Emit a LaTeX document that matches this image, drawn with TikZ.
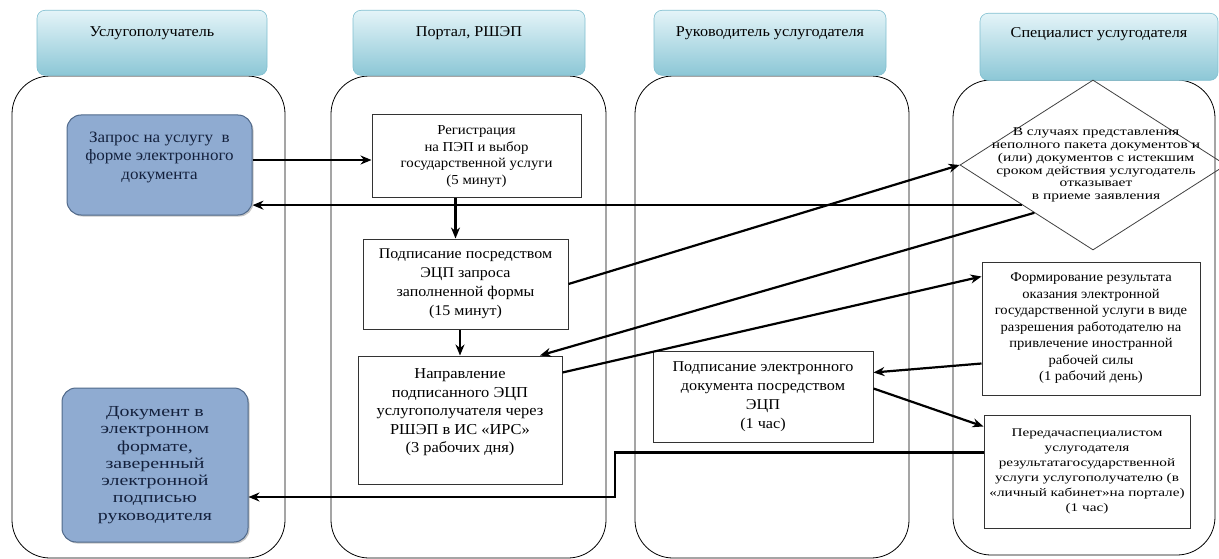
\documentclass[tikz,border=0pt]{standalone}
\usepackage{fontspec}
\setmainfont{Liberation Serif}[FakeStretch=1.08]
\newfontfamily\widefont{Liberation Serif}[FakeStretch=1.3]
\usetikzlibrary{arrows.meta,shapes.geometric,calc,shadows}

\definecolor{hdrlight}{HTML}{E4F4F8}
\definecolor{hdrdark}{HTML}{8CC7D6}
\definecolor{hdrline}{HTML}{80BFD0}
\definecolor{docfill}{HTML}{8FABD1}
\definecolor{docline}{HTML}{50698A}
\definecolor{doctext}{HTML}{14213D}

\tikzset{
  lane/.style={draw, line width=0.8pt, rounded corners=38pt, inner sep=0pt},
  lanehead/.style={anchor=north, rounded corners=8pt, draw=hdrline, line width=0.6pt,
    top color=hdrlight, bottom color=hdrdark, inner ysep=6pt,
    font=\fontsize{15}{17}\selectfont},
  stepbox/.style={draw=black!80, line width=1pt, fill=white, align=center, inner sep=2pt},
  docbox/.style={draw=docline, line width=1pt, fill=docfill, rounded corners=14pt,
    align=center, text=doctext, inner sep=2pt,
    drop shadow={shadow xshift=1.5pt, shadow yshift=-1.5pt, fill=black!45}},
  decision/.style={diamond, draw=black!75, line width=0.8pt, inner sep=0pt},
  flow/.style={line width=2.2pt, -{Stealth[length=11pt,width=9pt]}}
}

\begin{document}
\begin{tikzpicture}[x=1pt,y=-1pt]
\useasboundingbox (0,0) rectangle (1219,559);

\node[lane, minimum width=273pt, minimum height=482pt] (laneA) at (148.5,317) {};
\node[lane, minimum width=275pt, minimum height=482pt] (laneB) at (468.5,317) {};
\node[lane, minimum width=274pt, minimum height=482pt] (laneC) at (772,317) {};
\node[lane, minimum width=262pt, minimum height=475pt] (laneD) at (1084,317.5) {};

\node[lanehead, minimum width=230pt, text height=20pt, text depth=33pt] (headA) at (152,10) {Услугополучатель};
\node[lanehead, minimum width=232pt, text height=20pt, text depth=33pt] (headB) at (469,10) {Портал, РШЭП};
\node[lanehead, minimum width=232pt, text height=20pt, text depth=33pt] (headC) at (770,10) {Руководитель услугодателя};
\node[lanehead, minimum width=238pt, text height=18pt, text depth=37pt] (headD) at (1099,13) {Специалист услугодателя};

\node[docbox, minimum width=185pt, minimum height=100pt, font=\fontsize{15.8}{18.5}\selectfont] (query) at (159.5,165)
  {Запрос на услугу~ в\\ форме электронного\\ документа\\ \mbox{}};
\node[docbox, minimum width=186pt, minimum height=154pt, font=\widefont\fontsize{15.3}{17.3}\selectfont] (doc) at (155,465)
  {Документ в\\ электронном\\ формате,\\ заверенный\\ электронной\\ подписью\\ руководителя};

\node[stepbox, minimum width=209pt, minimum height=83pt, font=\fontsize{13.7}{16.5}\selectfont] (reg) at (476.5,156.5)
  {Регистрация\\ на ПЭП и выбор\\ государственной услуги\\ (5 минут)};
\node[stepbox, minimum width=205pt, minimum height=90pt, font=\fontsize{14.8}{19}\selectfont] (sign) at (465.5,284)
  {Подписание посредством\\ ЭЦП запроса\\ заполненной формы\\ (15 минут)};
\node[stepbox, minimum width=204pt, minimum height=128pt, font=\fontsize{15.2}{18.5}\selectfont] (napr) at (460,420)
  {Направление\\ подписанного ЭЦП\\ услугополучателя через\\ РШЭП в ИС «ИРС»\\ (3 рабочих дня)\\ \mbox{}};

\node[stepbox, minimum width=220pt, minimum height=91pt, font=\fontsize{15}{19}\selectfont] (lead) at (763,396.5)
  {Подписание электронного\\ документа посредством\\ ЭЦП\\ (1 час)};

\node[decision, minimum width=266pt, minimum height=170pt] (refuse) at (1093,165) {};
\node[align=center, inner sep=0pt, font=\widefont\fontsize{11.9}{12.8}\selectfont] (refusetext) at (1096,165)
  {В случаях представления\\ неполного пакета документов и\\ (или) документов с истекшим\\ сроком действия услугодатель\\ отказывает\\ в приеме заявления};
\node[stepbox, minimum width=218pt, minimum height=133pt, font=\fontsize{13.5}{16.5}\selectfont] (form) at (1091,328.5)
  {Формирование результата\\ оказания электронной\\ государственной услуги в виде\\ разрешения работодателю на\\ привлечение иностранной\\ рабочей силы\\ (1 рабочий день)};
\node[stepbox, minimum width=206pt, minimum height=113pt, font=\widefont\fontsize{11.7}{15}\selectfont] (transfer) at (1087,471.5)
  {Передачаспециалистом\\ услугодателя\\ результатагосударственной\\ услуги услугополучателю (в\\ «личный кабинет»на портале)\\ (1 час)};

\coordinate (jog) at (615,475);

\draw[flow] ([yshift=5pt]query.east) -- ([yshift=5pt]query.east -| reg.west);
\draw[flow] ([xshift=-21pt]reg.south) -- ([xshift=-21pt]reg.south |- sign.north);
\draw[flow] (sign.south -| napr.north) -- (napr.north);
\draw[flow] (sign.east) -- (refuse.west);
\draw[flow] ($(refuse.west)!0.47!(refuse.south)$) coordinate (back) -- (back -| query.east);
\draw[flow] ($(refuse.west)!0.56!(refuse.south)$) -- ($(napr.north)!0.78!(napr.north east)$);
\draw[flow] ([yshift=-17pt]napr.north east) -- ([yshift=-15pt]form.north west);
\draw[flow] ([yshift=32pt]form.south west) -- ([yshift=-22pt]lead.north east);
\draw[flow] ([yshift=8pt]lead.east) -- ([yshift=-12pt]transfer.north west);
\draw[flow] ([yshift=-38pt]transfer.north west) -| (jog) |- ([yshift=-32pt]doc.east);
\end{tikzpicture}
\end{document}
